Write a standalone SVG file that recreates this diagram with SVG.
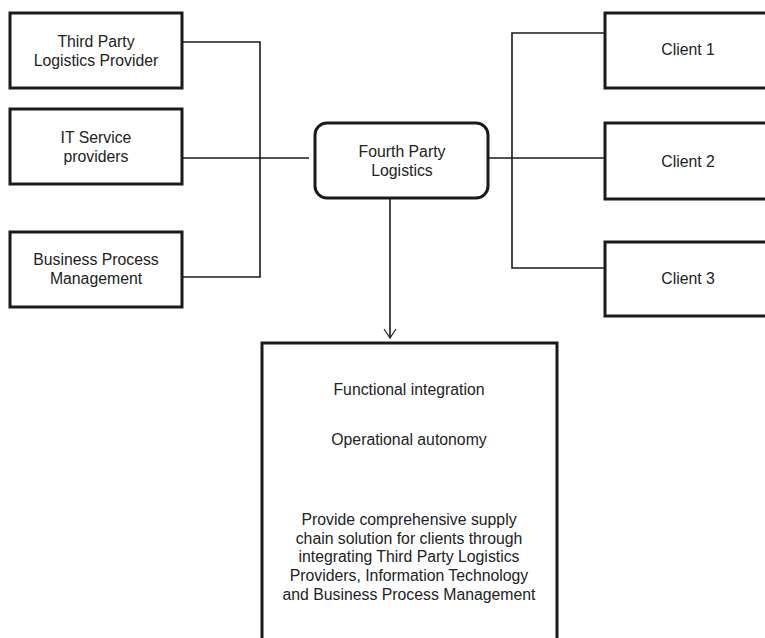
<svg xmlns="http://www.w3.org/2000/svg" width="765" height="638" viewBox="0 0 765 638">
<style>
.box{fill:#fff;stroke:#1a1a1a;stroke-width:3}
.ln{fill:none;stroke:#1a1a1a;stroke-width:1.6}
text{font-family:"Liberation Sans",Arial,sans-serif;font-size:15.8px;fill:#222;text-anchor:middle}
</style>
<defs>
<marker id="arr" markerWidth="14" markerHeight="14" refX="12" refY="7" orient="auto" markerUnits="userSpaceOnUse">
<path d="M3,1 L12,7 L3,13" fill="none" stroke="#1a1a1a" stroke-width="1.2"/>
</marker>
</defs>
<rect width="765" height="638" fill="#fff"/>
<g id="connectors">
<path class="ln" d="M182,42 H260 V277 H182"/>
<path class="ln" d="M182,158 H309"/>
<path class="ln" d="M488,158 H605"/>
<path class="ln" d="M605,33 H512 V268 H605"/>
<path class="ln" d="M390,198 V338" stroke-width="1.3" marker-end="url(#arr)"/>
</g>
<g id="tpl">
<rect class="box" x="10" y="13" width="172" height="75"/>
<text x="96" y="47">Third Party</text>
<text x="96" y="66">Logistics Provider</text>
</g>
<g id="it">
<rect class="box" x="10" y="109" width="172" height="75"/>
<text x="96" y="143">IT Service</text>
<text x="96" y="162">providers</text>
</g>
<g id="bpm">
<rect class="box" x="10" y="232" width="172" height="75"/>
<text x="96" y="265">Business Process</text>
<text x="96" y="284">Management</text>
</g>
<g id="fpl">
<rect class="box" x="315" y="123" width="173" height="75" rx="12" ry="12"/>
<text x="402" y="157">Fourth Party</text>
<text x="402" y="176">Logistics</text>
</g>
<g id="client1">
<rect class="box" x="605" y="13" width="175" height="75"/>
<text x="688" y="55">Client 1</text>
</g>
<g id="client2">
<rect class="box" x="605" y="123" width="175" height="76"/>
<text x="688" y="167">Client 2</text>
</g>
<g id="client3">
<rect class="box" x="605" y="242" width="175" height="74"/>
<text x="688" y="284">Client 3</text>
</g>
<g id="result">
<rect class="box" x="262" y="343" width="295" height="310"/>
<text x="409" y="395">Functional integration</text>
<text x="409" y="445">Operational autonomy</text>
<text x="409" y="525">Provide comprehensive supply</text>
<text x="409" y="544">chain solution for clients through</text>
<text x="409" y="562">integrating Third Party Logistics</text>
<text x="409" y="581">Providers, Information Technology</text>
<text x="409" y="600">and Business Process Management</text>
</g>
</svg>
